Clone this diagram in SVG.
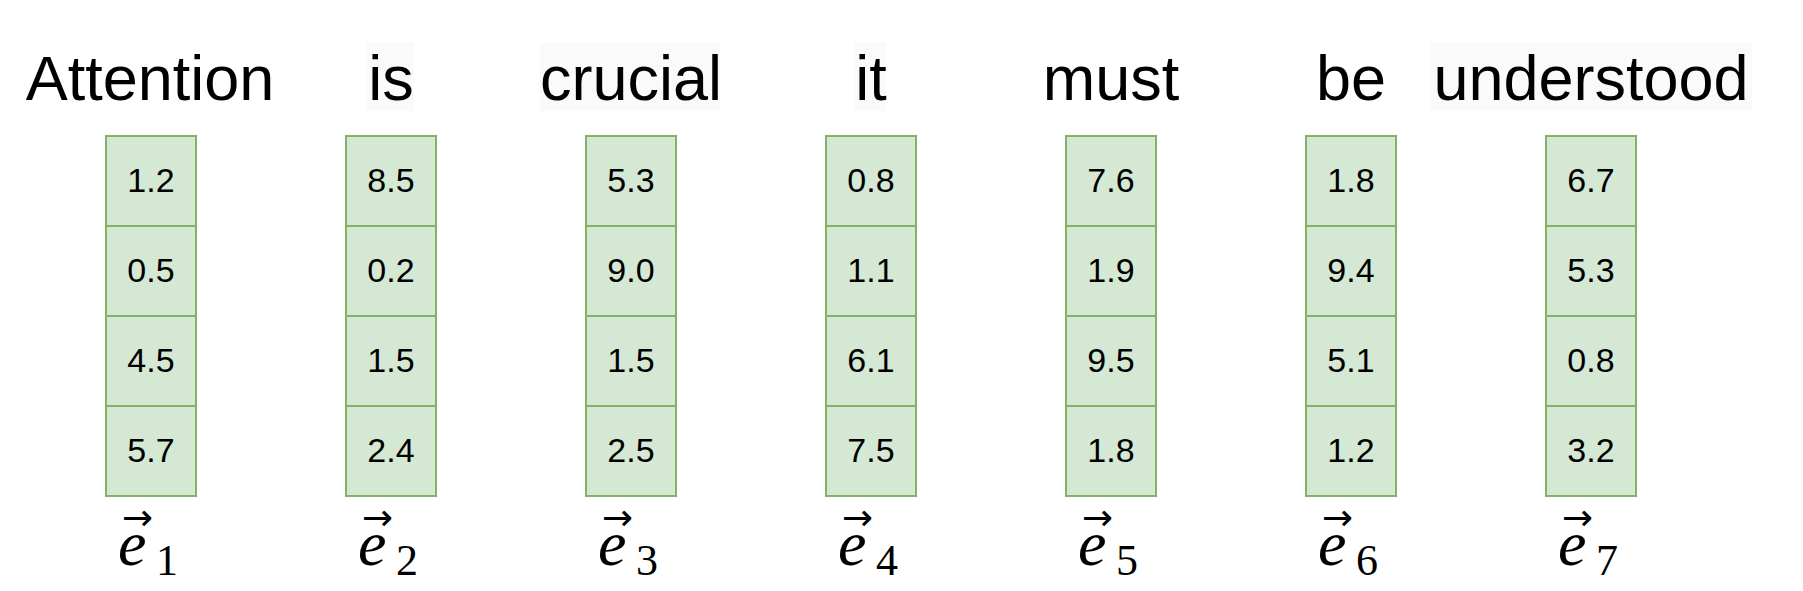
<svg xmlns="http://www.w3.org/2000/svg" width="1803" height="591" viewBox="0 0 1803 591">
<style>
.word{font-family:"Liberation Sans",Arial,sans-serif;font-size:63px;fill:#000;text-anchor:middle}
.wbg{fill:#fafafa}
.cell{fill:#d5e8d4;stroke:#82b366;stroke-width:2}
.num{font-family:"Liberation Sans",Arial,sans-serif;font-size:34px;fill:#000;text-anchor:middle}
.lab{font-family:"Liberation Serif","Times New Roman",serif;fill:#000}
.ev{font-style:italic;font-size:64px}
.sub{font-size:44px}
.arr{font-family:"DejaVu Sans",sans-serif;font-size:37px}
</style>
<rect width="1803" height="591" fill="#fff"/>
<g id="word-bgs">
<rect class="wbg" x="366" y="42" width="48" height="69"/>
<rect class="wbg" x="540" y="42" width="180" height="69"/>
<rect class="wbg" x="855" y="42" width="31" height="69"/>
<rect class="wbg" x="1431" y="42" width="321" height="69"/>
</g>
<g id="connectors"></g>
<g id="node1">
<text class="word" x="150" y="100">Attention</text>
<rect class="cell" x="106" y="136" width="90" height="90"/><rect class="cell" x="106" y="226" width="90" height="90"/><rect class="cell" x="106" y="316" width="90" height="90"/><rect class="cell" x="106" y="406" width="90" height="90"/>
<text class="num" x="151" y="192">1.2</text><text class="num" x="151" y="282">0.5</text><text class="num" x="151" y="372">4.5</text><text class="num" x="151" y="462">5.7</text>
<text class="lab"><tspan class="arr" x="122" y="530">→</tspan><tspan class="ev" x="118" y="565">e</tspan><tspan class="sub" x="156" y="575">1</tspan></text>
</g>
<g id="node2">
<text class="word" x="391" y="100">is</text>
<rect class="cell" x="346" y="136" width="90" height="90"/><rect class="cell" x="346" y="226" width="90" height="90"/><rect class="cell" x="346" y="316" width="90" height="90"/><rect class="cell" x="346" y="406" width="90" height="90"/>
<text class="num" x="391" y="192">8.5</text><text class="num" x="391" y="282">0.2</text><text class="num" x="391" y="372">1.5</text><text class="num" x="391" y="462">2.4</text>
<text class="lab"><tspan class="arr" x="362" y="530">→</tspan><tspan class="ev" x="358" y="565">e</tspan><tspan class="sub" x="396" y="575">2</tspan></text>
</g>
<g id="node3">
<text class="word" x="631" y="100">crucial</text>
<rect class="cell" x="586" y="136" width="90" height="90"/><rect class="cell" x="586" y="226" width="90" height="90"/><rect class="cell" x="586" y="316" width="90" height="90"/><rect class="cell" x="586" y="406" width="90" height="90"/>
<text class="num" x="631" y="192">5.3</text><text class="num" x="631" y="282">9.0</text><text class="num" x="631" y="372">1.5</text><text class="num" x="631" y="462">2.5</text>
<text class="lab"><tspan class="arr" x="602" y="530">→</tspan><tspan class="ev" x="598" y="565">e</tspan><tspan class="sub" x="636" y="575">3</tspan></text>
</g>
<g id="node4">
<text class="word" x="871" y="100">it</text>
<rect class="cell" x="826" y="136" width="90" height="90"/><rect class="cell" x="826" y="226" width="90" height="90"/><rect class="cell" x="826" y="316" width="90" height="90"/><rect class="cell" x="826" y="406" width="90" height="90"/>
<text class="num" x="871" y="192">0.8</text><text class="num" x="871" y="282">1.1</text><text class="num" x="871" y="372">6.1</text><text class="num" x="871" y="462">7.5</text>
<text class="lab"><tspan class="arr" x="842" y="530">→</tspan><tspan class="ev" x="838" y="565">e</tspan><tspan class="sub" x="876" y="575">4</tspan></text>
</g>
<g id="node5">
<text class="word" x="1111" y="100">must</text>
<rect class="cell" x="1066" y="136" width="90" height="90"/><rect class="cell" x="1066" y="226" width="90" height="90"/><rect class="cell" x="1066" y="316" width="90" height="90"/><rect class="cell" x="1066" y="406" width="90" height="90"/>
<text class="num" x="1111" y="192">7.6</text><text class="num" x="1111" y="282">1.9</text><text class="num" x="1111" y="372">9.5</text><text class="num" x="1111" y="462">1.8</text>
<text class="lab"><tspan class="arr" x="1082" y="530">→</tspan><tspan class="ev" x="1078" y="565">e</tspan><tspan class="sub" x="1116" y="575">5</tspan></text>
</g>
<g id="node6">
<text class="word" x="1351" y="100">be</text>
<rect class="cell" x="1306" y="136" width="90" height="90"/><rect class="cell" x="1306" y="226" width="90" height="90"/><rect class="cell" x="1306" y="316" width="90" height="90"/><rect class="cell" x="1306" y="406" width="90" height="90"/>
<text class="num" x="1351" y="192">1.8</text><text class="num" x="1351" y="282">9.4</text><text class="num" x="1351" y="372">5.1</text><text class="num" x="1351" y="462">1.2</text>
<text class="lab"><tspan class="arr" x="1322" y="530">→</tspan><tspan class="ev" x="1318" y="565">e</tspan><tspan class="sub" x="1356" y="575">6</tspan></text>
</g>
<g id="node7">
<text class="word" x="1591" y="100">understood</text>
<rect class="cell" x="1546" y="136" width="90" height="90"/><rect class="cell" x="1546" y="226" width="90" height="90"/><rect class="cell" x="1546" y="316" width="90" height="90"/><rect class="cell" x="1546" y="406" width="90" height="90"/>
<text class="num" x="1591" y="192">6.7</text><text class="num" x="1591" y="282">5.3</text><text class="num" x="1591" y="372">0.8</text><text class="num" x="1591" y="462">3.2</text>
<text class="lab"><tspan class="arr" x="1562" y="530">→</tspan><tspan class="ev" x="1558" y="565">e</tspan><tspan class="sub" x="1596" y="575">7</tspan></text>
</g>
</svg>
